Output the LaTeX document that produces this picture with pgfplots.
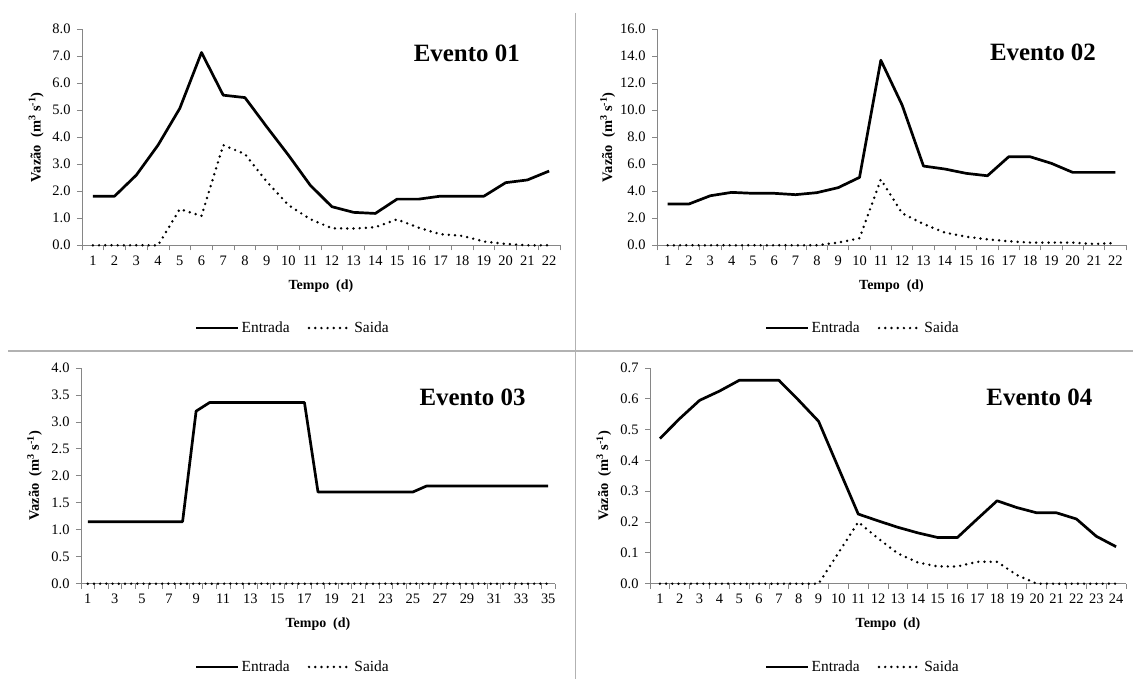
\documentclass[border=0pt]{standalone}
\usepackage{fontspec}
\setmainfont{Liberation Serif}
\usepackage{pgfplots}
\pgfplotsset{compat=1.18}
\definecolor{axgray}{RGB}{134,134,134}
\definecolor{divgray}{RGB}{178,178,178}
\pgfplotsset{
  evt/.style={
    scale only axis,
    axis x line=bottom, axis y line=left,
    axis line style={-, draw=axgray, line width=0.9bp},
    tick align=outside,
    major tick length=5bp, minor tick length=5bp,
    major x tick style={draw=none},
    minor x tick style={draw=axgray, line width=0.8bp},
    ytick style={draw=axgray, line width=0.8bp},
    ymin=0,
    x tick label style={font=\fontsize{14.5}{14.5}\selectfont, yshift=-2bp},
    y tick label style={font=\fontsize{14.5}{14.5}\selectfont, xshift=-3bp},
    /pgf/number format/assume math mode=true,
    yticklabel={\pgfmathprintnumber[fixed,fixed zerofill,precision=1]{\tick}},
    xlabel={Tempo\ \ (d)},
    ylabel={Vazão\ \ (m\textsuperscript{3} s\textsuperscript{-1})},
    xlabel style={font=\bfseries\fontsize{14}{14}\selectfont},
    ylabel style={font=\bfseries\fontsize{14.5}{14.5}\selectfont},
    legend columns=2,
    legend style={draw=none, fill=none, font=\fontsize{15.5}{15.5}\selectfont, inner sep=0pt,
      /tikz/every even column/.append style={column sep=16bp}},
    legend cell align=left,
    legend image code/.code={\draw[#1] (0bp,0bp) -- (42bp,0bp);},
    clip=false,
  },
  ent/.style={black, line width=2.7bp, line join=round},
  sai/.style={black, line width=2.7bp, line cap=round, dash pattern=on 0bp off 6.2bp},
}
\begin{document}
\begin{tikzpicture}
\useasboundingbox (0,0) rectangle (1133bp,679bp);
\draw[divgray, line width=1.4bp] (575.7bp,679bp-13bp) -- (575.7bp,0bp);
\draw[divgray, line width=1.4bp] (8bp,679bp-351bp) -- (1133bp,679bp-351bp);

% Evento 01
\begin{axis}[evt, at={(82bp,433.7bp)}, anchor=south west,
  width=478bp, height=216bp,
  xmin=0.5, xmax=22.5, ymax=8, ytick={0,1,...,8},
  xtick={1,...,22}, minor xtick={0.5,1.5,...,22.5},
  xlabel style={at={(axis description cs:0.5,-0.188)}, anchor=center},
  ylabel style={at={(axis description cs:-0.096,0.5)}, anchor=center},
  legend style={at={(axis description cs:0.441,-0.383)}, anchor=center}]
\addplot[ent] coordinates {(1,1.82)(2,1.82)(3,2.60)(4,3.71)(5,5.07)(6,7.14)(7,5.56)(8,5.47)(9,4.39)(10,3.34)(11,2.23)(12,1.43)(13,1.22)(14,1.18)(15,1.71)(16,1.71)(17,1.82)(18,1.82)(19,1.82)(20,2.32)(21,2.42)(22,2.75)};
\addlegendentry{Entrada}
\addplot[sai] coordinates {(1,0)(2,0)(3,0)(4,0)(5,1.34)(6,1.09)(7,3.71)(8,3.38)(9,2.36)(10,1.49)(11,0.97)(12,0.63)(13,0.62)(14,0.67)(15,0.96)(16,0.65)(17,0.41)(18,0.35)(19,0.14)(20,0.05)(21,0)(22,0)};
\addlegendentry{Saida}
\node[font=\bfseries\fontsize{25}{25}\selectfont] at (axis description cs:0.805,0.890) {Evento 01};
\end{axis}

% Evento 02
\begin{axis}[evt, at={(657bp,433.7bp)}, anchor=south west,
  width=469bp, height=216bp,
  xmin=0.5, xmax=22.5, ymax=16, ytick={0,2,...,16},
  xtick={1,...,22}, minor xtick={0.5,1.5,...,22.5},
  xlabel style={at={(axis description cs:0.5,-0.188)}, anchor=center},
  ylabel style={at={(axis description cs:-0.105,0.5)}, anchor=center},
  legend style={at={(axis description cs:0.439,-0.383)}, anchor=center}]
\addplot[ent] coordinates {(1,3.06)(2,3.06)(3,3.67)(4,3.92)(5,3.85)(6,3.85)(7,3.75)(8,3.90)(9,4.27)(10,5.03)(11,13.71)(12,10.38)(13,5.87)(14,5.65)(15,5.33)(16,5.15)(17,6.56)(18,6.56)(19,6.07)(20,5.40)(21,5.40)(22,5.40)};
\addlegendentry{Entrada}
\addplot[sai] coordinates {(1,0)(2,0)(3,0)(4,0)(5,0)(6,0)(7,0)(8,0)(9,0.2)(10,0.52)(11,4.88)(12,2.37)(13,1.58)(14,0.94)(15,0.64)(16,0.44)(17,0.30)(18,0.2)(19,0.2)(20,0.2)(21,0.1)(22,0.17)};
\addlegendentry{Saida}
\node[font=\bfseries\fontsize{25}{25}\selectfont] at (axis description cs:0.823,0.895) {Evento 02};
\end{axis}

% Evento 03
\begin{axis}[evt, at={(81bp,95.3bp)}, anchor=south west,
  width=474bp, height=215.7bp,
  xmin=0.5, xmax=35.5, ymax=4, ytick={0,0.5,...,4},
  xtick={1,3,...,35}, minor xtick={0.5,1.5,...,35.5},
  xlabel style={at={(axis description cs:0.5,-0.187)}, anchor=center},
  ylabel style={at={(axis description cs:-0.098,0.5)}, anchor=center},
  legend style={at={(axis description cs:0.447,-0.386)}, anchor=center}]
\addplot[ent] coordinates {(1,1.15)(2,1.15)(3,1.15)(4,1.15)(5,1.15)(6,1.15)(7,1.15)(8,1.15)(9,3.20)(10,3.36)(11,3.36)(12,3.36)(13,3.36)(14,3.36)(15,3.36)(16,3.36)(17,3.36)(18,1.70)(19,1.70)(20,1.70)(21,1.70)(22,1.70)(23,1.70)(24,1.70)(25,1.70)(26,1.81)(27,1.81)(28,1.81)(29,1.81)(30,1.81)(31,1.81)(32,1.81)(33,1.81)(34,1.81)(35,1.81)};
\addlegendentry{Entrada}
\addplot[sai] coordinates {(1,0)(2,0)(3,0)(4,0)(5,0)(6,0)(7,0)(8,0)(9,0)(10,0)(11,0)(12,0)(13,0)(14,0)(15,0)(16,0)(17,0)(18,0)(19,0)(20,0)(21,0)(22,0)(23,0)(24,0)(25,0)(26,0)(27,0)(28,0)(29,0)(30,0)(31,0)(32,0)(33,0)(34,0)(35,0)};
\addlegendentry{Saida}
\node[font=\bfseries\fontsize{25}{25}\selectfont] at (axis description cs:0.826,0.866) {Evento 03};
\end{axis}

% Evento 04
\begin{axis}[evt, at={(650bp,95.3bp)}, anchor=south west,
  width=476bp, height=215.7bp,
  xmin=0.5, xmax=24.5, ymax=0.7, ytick={0,0.1,...,0.7},
  xtick={1,...,24}, minor xtick={0.5,1.5,...,24.5},
  xlabel style={at={(axis description cs:0.5,-0.187)}, anchor=center},
  ylabel style={at={(axis description cs:-0.097,0.5)}, anchor=center},
  legend style={at={(axis description cs:0.447,-0.386)}, anchor=center}]
\addplot[ent] coordinates {(1,0.471)(2,0.536)(3,0.595)(4,0.625)(5,0.660)(6,0.660)(7,0.660)(8,0.595)(9,0.527)(10,0.376)(11,0.226)(12,0.204)(13,0.183)(14,0.165)(15,0.150)(16,0.150)(17,0.210)(18,0.269)(19,0.247)(20,0.230)(21,0.230)(22,0.210)(23,0.154)(24,0.120)};
\addlegendentry{Entrada}
\addplot[sai] coordinates {(1,0)(2,0)(3,0)(4,0)(5,0)(6,0)(7,0)(8,0)(9,0)(10,0.10)(11,0.20)(12,0.147)(13,0.098)(14,0.069)(15,0.056)(16,0.056)(17,0.071)(18,0.071)(19,0.028)(20,0)(21,0)(22,0)(23,0)(24,0)};
\addlegendentry{Saida}
\node[font=\bfseries\fontsize{25}{25}\selectfont] at (axis description cs:0.818,0.866) {Evento 04};
\end{axis}
\end{tikzpicture}
\end{document}
